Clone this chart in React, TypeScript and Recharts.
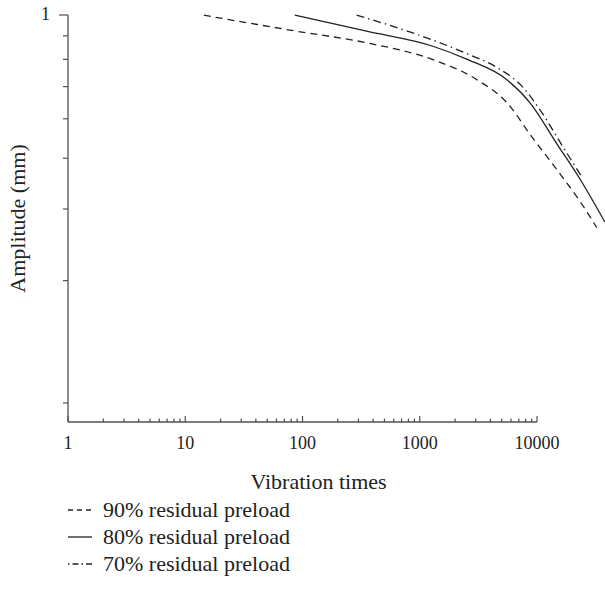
import React from "react";
import { LineChart, Line, XAxis, YAxis, ReferenceLine, Label } from "recharts";

// vibration cycles and amplitude (mm)
const cycles90 = [14.4, 40, 89, 352, 1294, 3069, 5530, 9200, 14760, 24550, 32350];
const amp90 = [0.999, 0.954, 0.921, 0.869, 0.799, 0.724, 0.648, 0.548, 0.475, 0.406, 0.37];

const cycles80 = [86, 352, 1294, 2570, 5530, 8690, 14760, 23170, 37800];
const amp80 = [0.999, 0.921, 0.854, 0.799, 0.724, 0.648, 0.534, 0.456, 0.379];

const cycles70 = [289, 873, 2330, 4820, 7130, 10560, 16600, 24100];
const amp70 = [0.999, 0.913, 0.83, 0.762, 0.709, 0.627, 0.527, 0.46];

const xMajor = [1, 10, 100, 1000, 10000];
const xMinorSteps = [2, 3, 4, 5, 6, 7, 8, 9];
const yTicksMm = [1, 0.9, 0.8, 0.7, 0.6, 0.5, 0.4, 0.3, 0.2];
const yLabeled = [1];

// the amplitude axis spacing matches a log scale of (amplitude - 0.1)
const OFFSET = 0.1;
const Y_MIN = 0.1898;
const Y_MAX = 1;

const INK = "#222";
const AXIS = "#505050";
const FONT = "'Liberation Serif', 'DejaVu Serif', serif";

const toPoints = (xs: number[], ys: number[]) => xs.map((x, i) => ({ x, amp: ys[i], u: ys[i] - OFFSET }));

const series = [
  { name: "90% residual preload", dash: "7 5", legendDash: "5 4", data: toPoints(cycles90, amp90) },
  { name: "80% residual preload", dash: undefined, legendDash: undefined, data: toPoints(cycles80, amp80) },
  { name: "70% residual preload", dash: "8 4 1.5 4", legendDash: "1.5 3 6 3", data: toPoints(cycles70, amp70) },
];

const xTicks: number[] = [];
xMajor.forEach((d, i) => {
  xTicks.push(d);
  if (i < xMajor.length - 1) xMinorSteps.forEach((m) => xTicks.push(d * m));
});

const XTick = ({ x, y, payload }: any) => {
  const major = xMajor.includes(payload.value);
  return (
    <g>
      <line x1={x} x2={x} y1={y} y2={y - (major ? 6 : 3.5)} stroke={AXIS} strokeWidth={1.2} />
      {major && (
        <text x={x} y={y + 27} textAnchor="middle" fontSize={18} fill={INK} fontFamily={FONT}>
          {payload.value}
        </text>
      )}
    </g>
  );
};

const YTick = ({ x, y, payload }: any) => {
  const mm = Math.round((payload.value + OFFSET) * 100) / 100;
  const labeled = yLabeled.includes(mm);
  const len = labeled ? 9 : 5;
  return (
    <g>
      <line x1={x} x2={x - len} y1={y} y2={y} stroke={AXIS} strokeWidth={1.2} />
      {labeled && (
        <text x={x - len - 9} y={y + 5} textAnchor="end" fontSize={18} fill={INK} fontFamily={FONT}>
          {mm}
        </text>
      )}
    </g>
  );
};

const XTitle = ({ viewBox }: any) => (
  <text
    x={viewBox.x + viewBox.width / 2 - 18}
    y={viewBox.y + 67}
    textAnchor="middle"
    fontSize={22}
    fill={INK}
    fontFamily={FONT}
  >
    Vibration times
  </text>
);

const YTitle = ({ viewBox }: any) => {
  const cx = viewBox.x + 17;
  const cy = viewBox.y + viewBox.height / 2;
  return (
    <text
      x={cx}
      y={cy}
      transform={`rotate(-90 ${cx} ${cy})`}
      textAnchor="middle"
      dominantBaseline="central"
      fontSize={22}
      fill={INK}
      fontFamily={FONT}
    >
      Amplitude (mm)
    </text>
  );
};

const LegendBlock = () => (
  <div style={{ position: "absolute", left: 67, top: 496 }}>
    {series.map((s) => (
      <div key={s.name} style={{ display: "flex", alignItems: "center", height: 27 }}>
        <svg width={26} height={10} style={{ marginRight: 10 }}>
          <line x1={1} x2={25} y1={5} y2={5} stroke={INK} strokeWidth={1.3} strokeDasharray={s.legendDash} />
        </svg>
        <span style={{ fontSize: 22, color: INK, fontFamily: FONT, lineHeight: "27px" }}>{s.name}</span>
      </div>
    ))}
  </div>
);

export default function App() {
  return (
    <div style={{ position: "absolute", left: 0, top: 0, width: 605, height: 591, background: "#fff" }}>
      <LineChart width={605} height={591} margin={{ top: 15, right: 0, bottom: 101, left: 0 }}>
        <XAxis
          dataKey="x"
          type="number"
          scale="log"
          domain={[1, 38000]}
          ticks={xTicks}
          interval={0}
          height={68}
          axisLine={false}
          tickLine={false}
          tickSize={0}
          tickMargin={0}
          tick={<XTick />}
          allowDuplicatedCategory={false}
        >
          <Label content={<XTitle />} />
        </XAxis>
        <YAxis
          dataKey="u"
          type="number"
          scale="log"
          domain={[Y_MIN - OFFSET, Y_MAX - OFFSET]}
          ticks={yTicksMm.map((t) => t - OFFSET)}
          interval={0}
          width={68}
          axisLine={{ stroke: AXIS, strokeWidth: 1.3 }}
          tickLine={false}
          tickSize={0}
          tickMargin={0}
          tick={<YTick />}
        >
          <Label content={<YTitle />} />
        </YAxis>
        <ReferenceLine
          segment={[
            { x: 1, y: Y_MIN - OFFSET },
            { x: 10000, y: Y_MIN - OFFSET },
          ]}
          stroke={AXIS}
          strokeWidth={1.3}
        />
        {series.map((s) => (
          <Line
            key={s.name}
            data={s.data}
            dataKey="u"
            name={s.name}
            type="monotone"
            stroke={INK}
            strokeWidth={1.3}
            strokeDasharray={s.dash}
            dot={false}
            isAnimationActive={false}
          />
        ))}
      </LineChart>
      <LegendBlock />
    </div>
  );
}
